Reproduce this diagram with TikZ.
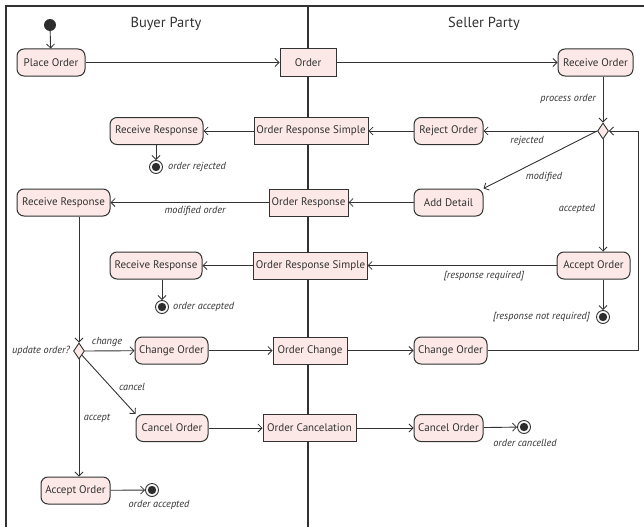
\documentclass[tikz,border=0pt]{standalone}
\usepackage{fontspec}
\setmainfont{PT Sans}
\usetikzlibrary{shapes.geometric,arrows.meta}
\definecolor{pinkfill}{RGB}{252,233,231}
\definecolor{ink}{RGB}{50,50,50}
\begin{document}
\begin{tikzpicture}[x=1pt,y=-1pt,
  font=\fontsize{11}{13}\selectfont,
  flow/.style={draw=ink,line width=0.9pt,-{Straight Barb[length=4pt,width=8pt,line width=0.8pt]}},
  act/.style={draw=ink,line width=1pt,fill=pinkfill,rounded corners=7pt,minimum height=27pt,inner sep=2pt,text=ink},
  obj/.style={draw=ink,line width=1pt,fill=pinkfill,minimum height=27pt,inner sep=2pt,text=ink},
  decision/.style={diamond,draw=ink,line width=0.9pt,fill=pinkfill,minimum width=11pt,minimum height=16pt,inner sep=0pt},
  initial/.style={circle,fill=ink!90!black,minimum size=12pt,inner sep=0pt},
  final/.style={circle,draw=ink,line width=0.9pt,fill=white,minimum size=13pt,inner sep=0pt,
    path picture={\fill[ink!90!black] (path picture bounding box.center) circle (4.2pt);}},
  guard/.style={font=\fontsize{10.3}{12}\selectfont\itshape,text=ink,inner sep=1pt},
  lanetitle/.style={font=\fontsize{14.5}{16}\selectfont,text=ink},
  lane/.style={draw=ink,line width=1.4pt}]
\useasboundingbox (0,0) rectangle (644,527);

% swimlane frame
\draw[lane] (6,527) -- (6,6) -- (644,6);
\draw[lane] (308,6) -- (308,527);
\node[lanetitle] (buyer) at (166,24) {Buyer Party};
\node[lanetitle] (seller) at (484,24) {Seller Party};

% nodes
\node[initial] (start) at (50,25) {};
\node[act,minimum width=68pt] (place) at (51,62.5) {Place Order};
\node[obj,minimum width=56pt] (order) at (308,62.5) {Order};
\node[act,minimum width=75pt] (recv) at (595.5,62.5) {Receive Order};
\node[decision] (dec1) at (603,131) {};
\node[act,minimum width=69pt] (reject) at (448.5,131) {Reject Order};
\node[obj,minimum width=114pt] (ors1) at (311,131) {Order Response Simple};
\node[act,minimum width=93pt] (rr1) at (156.5,131) {Receive Response};
\node[final] (end1) at (156,167) {};
\node[act,minimum width=93pt] (rr2) at (63.5,202.5) {Receive Response};
\node[obj,minimum width=79pt] (oresp) at (308.5,202.5) {Order Response};
\node[act,minimum width=69pt] (detail) at (448.5,202.5) {Add Detail};
\node[act,minimum width=73pt] (accS) at (593.5,265.5) {Accept Order};
\node[final] (endnr) at (603,317) {};
\node[obj,minimum width=113pt] (ors2) at (310.5,265.5) {Order Response Simple};
\node[act,minimum width=92pt] (rr3) at (156,265.5) {Receive Response};
\node[final] (end2) at (162,307) {};
\node[decision] (dec2) at (79,351) {};
\node[act,minimum width=73pt] (chgB) at (171.5,350.5) {Change Order};
\node[obj,minimum width=74pt] (ochg) at (310,350.5) {Order Change};
\node[act,minimum width=73pt] (chgS) at (450.5,350.5) {Change Order};
\node[act,minimum width=72pt] (cncB) at (172,428) {Cancel Order};
\node[obj,minimum width=93pt] (ocnc) at (309.5,428) {Order Cancelation};
\node[act,minimum width=69pt] (cncS) at (448.5,428) {Cancel Order};
\node[final] (end3) at (524,427) {};
\node[act,minimum width=69pt] (accB) at (75.5,490.5) {Accept Order};
\node[final] (end4) at (152,490) {};
\coordinate (loopB) at (638,350.5);
\coordinate (loopT) at (638,131);

% flows
\draw[flow] (start) -- (place);
\draw[flow] (place) -- (order);
\draw[flow] (order) -- (recv);
\draw[flow] (recv.south -| dec1) -- (dec1.north);
\draw[flow] (dec1.west) -- (reject.east);
\draw[flow] (reject) -- (ors1);
\draw[flow] (ors1) -- (rr1);
\draw[flow] (rr1.south -| end1) -- (end1);
\draw[flow] (dec1.west) -- (detail.north east);
\draw[flow] (detail) -- (oresp);
\draw[flow] (oresp) -- (rr2);
\draw[flow] (dec1.south) -- (accS.north -| dec1);
\draw[flow] (accS) -- (ors2);
\draw[flow] (ors2) -- (rr3);
\draw[flow] (rr3.south -| end2) -- (end2);
\draw[flow] (accS.south -| endnr) -- (endnr);
\draw[flow] (rr2.south -| dec2) -- (dec2.north);
\draw[flow] (dec2.east) -- (chgB);
\draw[flow] (chgB) -- (ochg);
\draw[flow] (ochg) -- (chgS);
\draw[flow] (chgS.east) -- (loopB) -- (loopT) -- (dec1.east);
\draw[flow] (dec2.south east) -- (cncB.north west);
\draw[flow] (cncB) -- (ocnc);
\draw[flow] (ocnc) -- (cncS);
\draw[flow] (cncS) -- (end3);
\draw[flow] (dec2.south) -- (accB.north -| dec2);
\draw[flow] (accB) -- (end4);

% guards and notes
\node[guard,anchor=east] (lblproc) at (597,99) {process order};
\node[guard] (lblrej) at (527,141) {rejected};
\node[guard] (lblmod) at (544,177) {modified};
\node[guard] (lblacc) at (577,209) {accepted};
\node[guard,anchor=west] (lblor) at (167,167) {order rejected};
\node[guard] (lblmo) at (195,211) {modified order};
\node[guard] (lblrr) at (484,276) {[response required]};
\node[guard,anchor=east] (lblnr) at (591,317) {[response not required]};
\node[guard,anchor=west] (lbloa) at (172,307) {order accepted};
\node[guard,anchor=east] (lbluo) at (71,351) {update order?};
\node[guard] (lblchg) at (107,342) {change};
\node[guard] (lblcnc) at (132,387) {cancel};
\node[guard] (lblapt) at (97,418) {accept};
\node[guard] (lbloc) at (525,443) {order cancelled};
\node[guard] (lbloa2) at (159,505) {order accepted};
\end{tikzpicture}
\end{document}
